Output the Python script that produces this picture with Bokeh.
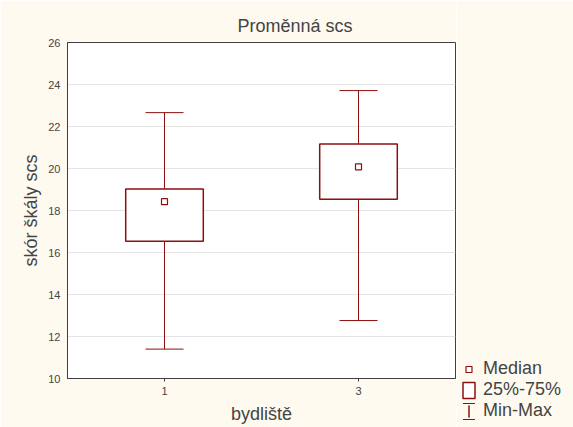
from bokeh.plotting import figure
from bokeh.layouts import row
from bokeh.models import ColumnDataSource, Whisker, TeeHead, Legend, LegendItem
from bokeh.embed import file_html
from bokeh.resources import INLINE

# ---- data ----
categories = ["1", "3"]
q_min = [11.40, 12.76]
q1 = [16.54, 18.54]
median = [18.42, 20.08]
q3 = [19.02, 21.17]
q_max = [22.66, 23.71]
y_ticks = [10, 12, 14, 16, 18, 20, 22, 24, 26]

BG = "#FEFAF0"
RED = "#8E0F0F"
FONT = "Liberation Sans"

src = ColumnDataSource(dict(cat=categories, mn=q_min, q1=q1, med=median, q3=q3, mx=q_max))

p = figure(width=456, height=427, x_range=categories, y_range=(10, 26),
           output_backend="svg", toolbar_location=None,
           min_border_left=67, min_border_top=42, min_border_right=1, min_border_bottom=49)
p.border_fill_color = BG
p.background_fill_color = "white"
p.outline_line_color = "#404040"
p.outline_line_width = 1

# title
p.title.text = "Proměnná scs"
p.title.text_font = FONT
p.title.text_font_size = "18px"
p.title.text_font_style = "normal"
p.title.align = "left"
p.title.offset = 170
p.title.standoff = 13

# axes
p.xaxis.axis_label = "bydliště"
p.yaxis.axis_label = "skór škály scs"
for ax in (p.xaxis[0], p.yaxis[0]):
    ax.axis_label_text_font = FONT
    ax.axis_label_text_font_size = "18px"
    ax.axis_label_text_font_style = "normal"
    ax.major_label_text_font = FONT
    ax.major_label_text_font_size = "11px"
    ax.axis_line_color = "#404040"
    ax.major_tick_line_color = "#404040"
    ax.minor_tick_line_color = None
p.yaxis.ticker = y_ticks
p.yaxis.major_tick_out = 0
p.yaxis.major_tick_in = 0
p.yaxis.major_label_standoff = 7
p.yaxis.axis_label_standoff = 4
p.xaxis.major_tick_out = 3
p.xaxis.major_tick_in = 0
p.xaxis.major_label_standoff = 5
p.xaxis.axis_label_standoff = 6

p.xgrid.grid_line_color = None
p.ygrid.grid_line_color = "#E4E4E4"
p.ygrid.grid_line_width = 1

# whiskers
lower_w = Whisker(source=src, base="cat", lower="mn", upper="q1", dimension="height",
                  line_color=RED, line_width=1,
                  lower_head=TeeHead(size=38, line_color=RED, line_width=1), upper_head=None)
upper_w = Whisker(source=src, base="cat", lower="q3", upper="mx", dimension="height",
                  line_color=RED, line_width=1,
                  upper_head=TeeHead(size=38, line_color=RED, line_width=1), lower_head=None)
p.add_layout(lower_w)
p.add_layout(upper_w)

# boxes
p.vbar(x="cat", width=0.4, bottom="q1", top="q3", source=src,
       fill_color="white", line_color=RED, line_width=1.5)
# medians
p.scatter(x="cat", y="med", source=src, marker="square", size=6,
          fill_color="white", line_color=RED, line_width=1.2)

# ---- legend panel: a figure whose glyphs lie outside its ranges,
#      so only their legend symbols are drawn ----
lg = figure(width=117, height=427, x_range=categories, y_range=(100, 101),
            output_backend="svg", toolbar_location=None,
            x_axis_location=None, y_axis_location=None,
            min_border_left=0, min_border_right=0, min_border_top=42, min_border_bottom=49)
lg.border_fill_color = BG
lg.background_fill_color = BG
lg.outline_line_color = None
lg.grid.visible = False

med_l = lg.scatter(x="cat", y="med", source=src, marker="square", size=6,
                   fill_color="white", line_color=RED, line_width=1.2)
box_l = lg.vbar(x="cat", width=0.4, bottom="q1", top="q3", source=src,
                fill_color="white", line_color=RED, line_width=1.5)
caps_l = lg.vbar(x="cat", width=0.4, bottom="mn", top="mx", source=src,
                 fill_alpha=0, line_color=RED, line_width=1, line_dash="12 16")
stem_l = lg.ellipse(x="cat", y="med", width=0.0001, height=1, source=src,
                    fill_alpha=0, line_color=RED, line_width=1)

legend = Legend(items=[LegendItem(label="Median", renderers=[med_l]),
                       LegendItem(label="25%-75%", renderers=[box_l]),
                       LegendItem(label="Min-Max", renderers=[caps_l, stem_l])],
                location=(5, -43), orientation="vertical",
                border_line_color=None, background_fill_alpha=0,
                padding=0, margin=0, spacing=0,
                glyph_width=15, glyph_height=20, label_height=20,
                label_standoff=7, label_text_font=FONT, label_text_font_size="18px")
lg.add_layout(legend, "left")

layout = row(p, lg, spacing=0)

html = file_html(layout, INLINE)
html = html.replace("<body>", '<body style="background:%s">' % BG, 1)
open("out.html", "w").write(html)
